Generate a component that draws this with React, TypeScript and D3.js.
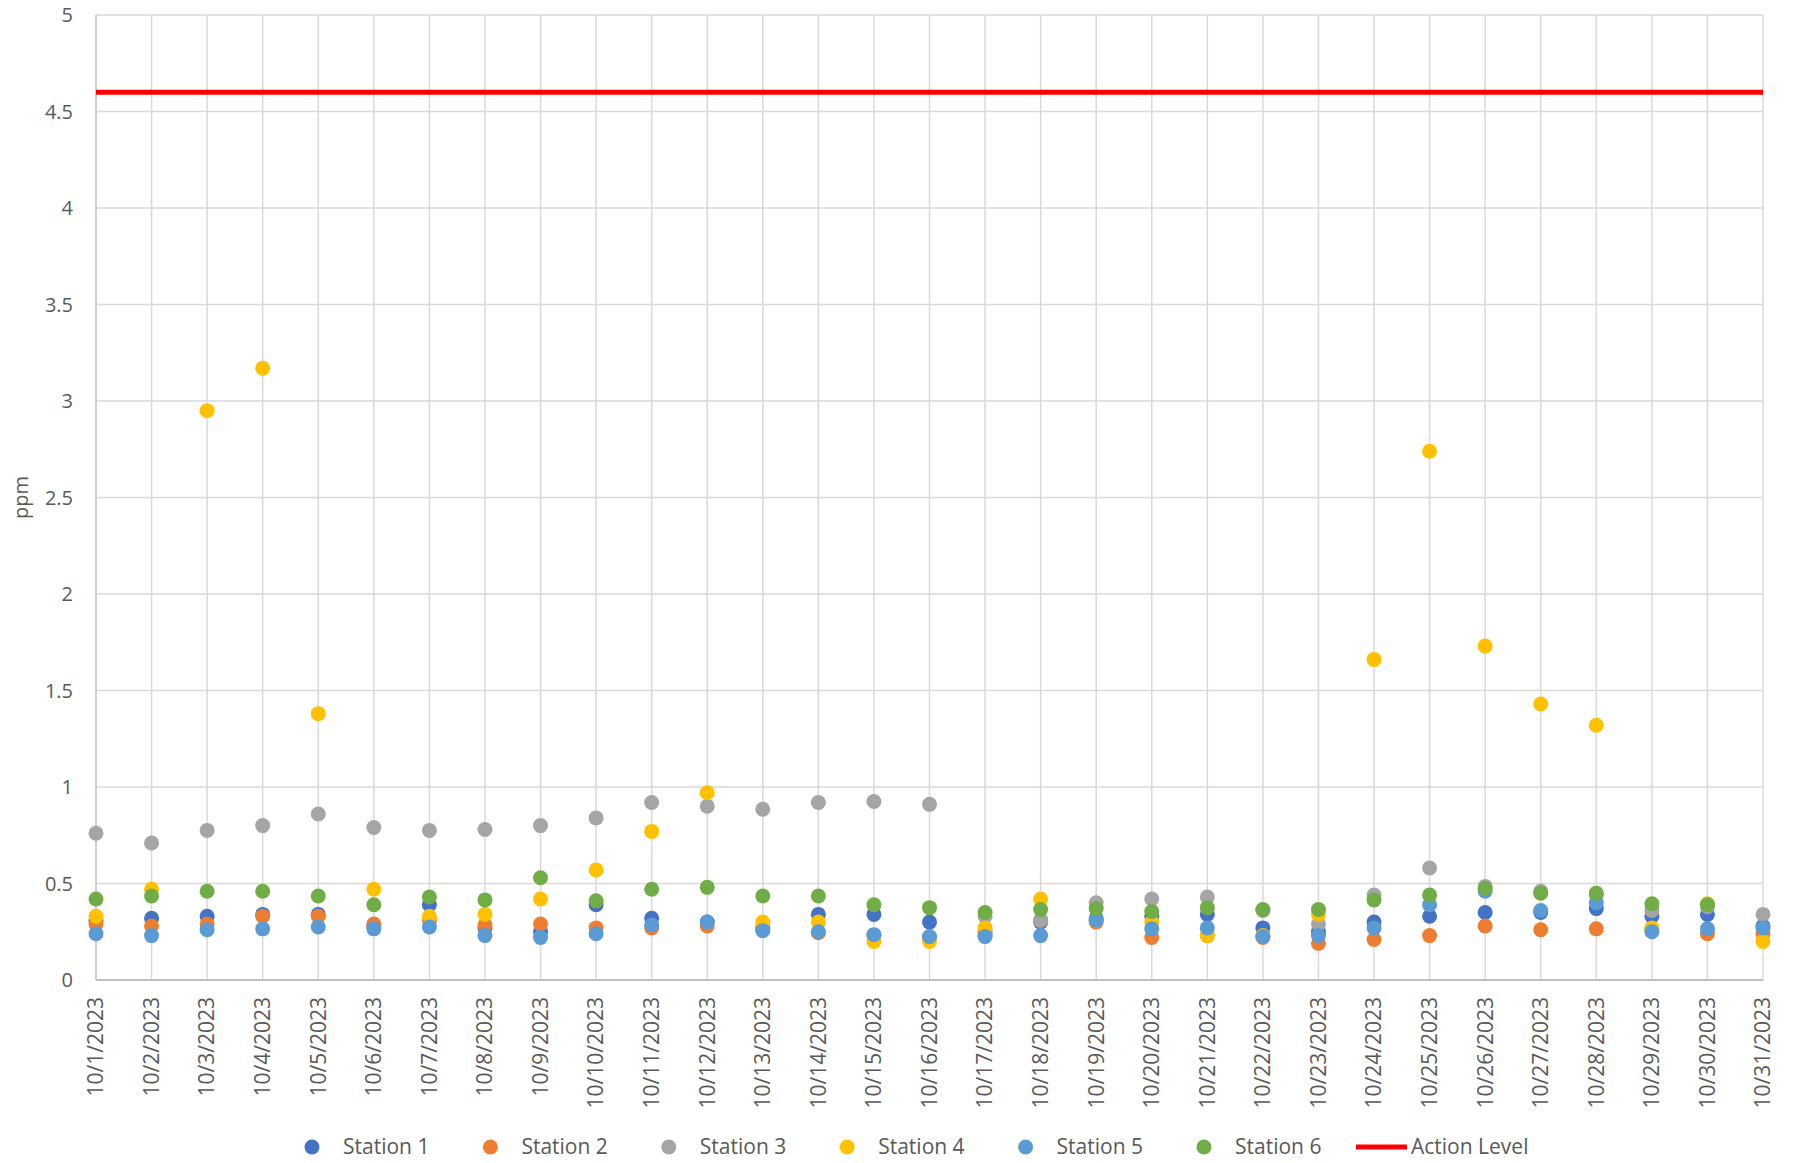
import React from 'react'
import * as d3 from 'd3'

const dates = d3.range(1, 32).map(d => `10/${d}/2023`)

const station1 = [0.31, 0.32, 0.33, 0.34, 0.34, 0.28, 0.39, 0.27, 0.25, 0.39, 0.32, 0.3, 0.27, 0.34, 0.34, 0.3, 0.25, 0.3, 0.32, 0.33, 0.34, 0.27, 0.25, 0.3, 0.33, 0.35, 0.35, 0.37, 0.33, 0.34, 0.28]
const station2 = [0.29, 0.28, 0.29, 0.33, 0.33, 0.29, 0.31, 0.285, 0.29, 0.27, 0.27, 0.28, 0.26, 0.245, 0.23, 0.22, 0.23, 0.31, 0.3, 0.22, 0.23, 0.22, 0.19, 0.21, 0.23, 0.28, 0.26, 0.265, 0.26, 0.24, 0.24]
const station3 = [0.76, 0.71, 0.775, 0.8, 0.86, 0.79, 0.775, 0.78, 0.8, 0.84, 0.92, 0.9, 0.885, 0.92, 0.925, 0.91, 0.33, 0.31, 0.4, 0.42, 0.43, 0.36, 0.29, 0.44, 0.58, 0.485, 0.46, 0.44, 0.36, 0.38, 0.34]
const station4 = [0.33, 0.47, 2.95, 3.17, 1.38, 0.47, 0.33, 0.34, 0.42, 0.57, 0.77, 0.97, 0.3, 0.3, 0.2, 0.2, 0.27, 0.42, 0.31, 0.3, 0.23, 0.23, 0.34, 1.66, 2.74, 1.73, 1.43, 1.32, 0.27, 0.395, 0.2]
const station5 = [0.24, 0.23, 0.26, 0.265, 0.275, 0.265, 0.275, 0.23, 0.22, 0.24, 0.285, 0.3, 0.255, 0.25, 0.235, 0.225, 0.225, 0.23, 0.31, 0.265, 0.27, 0.225, 0.23, 0.27, 0.39, 0.46, 0.36, 0.4, 0.25, 0.265, 0.27]
const station6 = [0.42, 0.435, 0.46, 0.46, 0.435, 0.39, 0.43, 0.415, 0.53, 0.41, 0.47, 0.48, 0.435, 0.435, 0.39, 0.375, 0.35, 0.365, 0.37, 0.355, 0.375, 0.365, 0.365, 0.415, 0.44, 0.475, 0.45, 0.45, 0.395, 0.39, null]
const actionLevel = 4.6

const seriesNames = ['Station 1', 'Station 2', 'Station 3', 'Station 4', 'Station 5', 'Station 6']
const seriesValues = [station1, station2, station3, station4, station5, station6]
const colors = ['#4472C4', '#ED7D31', '#A5A5A5', '#FFC000', '#5B9BD5', '#70AD47']
const yTicks = d3.range(0, 5.01, 0.5)

const W = 1814
const H = 1163
const margin = { top: 15, right: 51, bottom: 183, left: 96 }
const font = '"Open Sans", sans-serif'
const textColor = '#595959'

export default function App() {
  const x = d3.scalePoint<string>().domain(dates).range([margin.left, W - margin.right])
  const y = d3.scaleLinear().domain([0, 5]).range([H - margin.bottom, margin.top])
  const x0 = margin.left
  const x1 = W - margin.right

  return (
    <div style={{ position: 'absolute', left: 0, top: 0 }}>
      <svg width={W} height={H} style={{ display: 'block', background: '#fff' }}>
        {/* grid */}
        <g stroke="#d9d9d9" strokeWidth={1.5}>
          {yTicks.map(t => (
            <line key={'h' + t} x1={x0} x2={x1} y1={y(t)} y2={y(t)} />
          ))}
          {dates.map(d => (
            <line key={'v' + d} x1={x(d)} x2={x(d)} y1={y(5)} y2={y(0)} />
          ))}
        </g>
        <line x1={x0} x2={x1} y1={y(0)} y2={y(0)} stroke="#bfbfbf" strokeWidth={2} />
        <line x1={x0} x2={x0} y1={y(5)} y2={y(0)} stroke="#c8c8c8" strokeWidth={1.5} />

        {/* y tick labels */}
        <g fontFamily={font} fontSize={20} fill={textColor} textAnchor="end">
          {yTicks.map(t => (
            <text key={t} x={73} y={y(t)} dy="0.35em">
              {d3.format('')(+t.toFixed(1))}
            </text>
          ))}
        </g>
        <text
          transform={`translate(21,${(y(0) + y(5)) / 2}) rotate(-90)`}
          textAnchor="middle"
          dy="0.35em"
          fontFamily={font}
          fontSize={20}
          fill={textColor}
        >
          ppm
        </text>

        {/* x tick labels */}
        <g fontFamily={font} fontSize={21} fill={textColor} textAnchor="end">
          {dates.map(d => (
            <text key={d} transform={`translate(${x(d)},${y(0) + 17}) rotate(-90)`} dy="0.35em">
              {d}
            </text>
          ))}
        </g>

        {/* action level */}
        <line x1={x0} x2={x1} y1={y(actionLevel)} y2={y(actionLevel)} stroke="#FF0000" strokeWidth={5} />

        {/* points */}
        {seriesValues.map((vals, si) => (
          <g key={si} fill={colors[si]}>
            {vals.map((v, i) =>
              v == null ? null : <circle key={i} cx={x(dates[i])} cy={y(v)} r={7.5} />,
            )}
          </g>
        ))}

        {/* legend */}
        <g fontFamily={font} fontSize={21} fill={textColor}>
          {seriesNames.map((name, i) => {
            const lx = 312 + i * 178.4
            return (
              <g key={name}>
                <circle cx={lx} cy={1147} r={7.5} fill={colors[i]} />
                <text x={lx + 31} y={1147} dy="0.35em">
                  {name}
                </text>
              </g>
            )
          })}
          <line x1={1356} x2={1407} y1={1147} y2={1147} stroke="#FF0000" strokeWidth={5} />
          <text x={1411} y={1147} dy="0.35em">
            Action Level
          </text>
        </g>
      </svg>
    </div>
  )
}
